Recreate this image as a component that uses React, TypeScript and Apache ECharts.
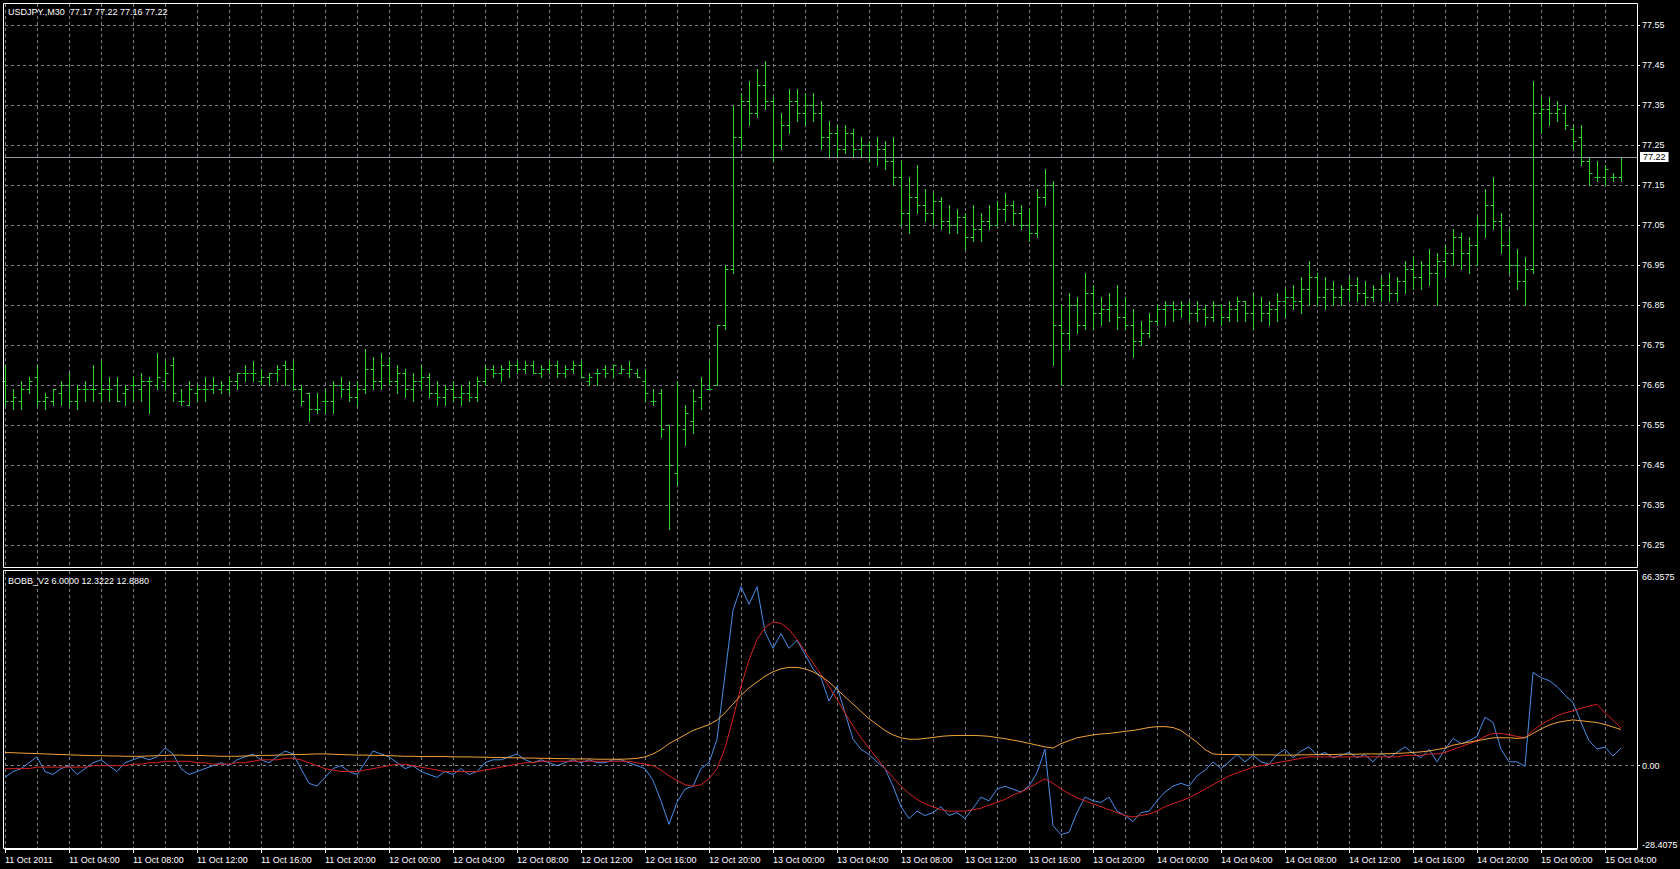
import React, { useEffect, useRef } from "react";
import * as echarts from "echarts";

const SYMBOL_LABEL = "USDJPY.,M30  77.17 77.22 77.16 77.22";
const INDICATOR_LABEL = "BOBB_V2 6.0000 12.3222 12.8880";

const TIME_LABELS = [
  "11 Oct 2011", "11 Oct 04:00", "11 Oct 08:00", "11 Oct 12:00", "11 Oct 16:00", "11 Oct 20:00",
  "12 Oct 00:00", "12 Oct 04:00", "12 Oct 08:00", "12 Oct 12:00", "12 Oct 16:00", "12 Oct 20:00",
  "13 Oct 00:00", "13 Oct 04:00", "13 Oct 08:00", "13 Oct 12:00", "13 Oct 16:00", "13 Oct 20:00",
  "14 Oct 00:00", "14 Oct 04:00", "14 Oct 08:00", "14 Oct 12:00", "14 Oct 16:00", "14 Oct 20:00",
  "15 Oct 00:00", "15 Oct 04:00",
];
const PRICE_TICKS = [76.25, 76.35, 76.45, 76.55, 76.65, 76.75, 76.85, 76.95, 77.05, 77.15, 77.25, 77.35, 77.45, 77.55];
const PRICE_MIN = 76.1925;
const PRICE_MAX = 77.6025;
const LAST_PRICE = 77.22;
const IND_MIN = -28.4075;
const IND_MAX = 66.3575;
const IND_LABELS = [-28.4075, 0, 66.3575];
const IND_ZERO = [0];
const SLOT_COUNT = 205; // bar slots on the time axis (2 empty on the right)

const OPEN = [
  76.66, 76.61, 76.61, 76.64, 76.67, 76.61, 76.61, 76.63, 76.65, 76.61,
  76.64, 76.64, 76.63, 76.64, 76.65, 76.63, 76.65, 76.64, 76.66, 76.65,
  76.66, 76.70, 76.61, 76.60, 76.63, 76.64, 76.64, 76.64, 76.64, 76.66,
  76.68, 76.68, 76.66, 76.67, 76.68, 76.70, 76.69, 76.64, 76.63, 76.59,
  76.61, 76.61, 76.65, 76.64, 76.62, 76.64, 76.69, 76.66, 76.70, 76.66,
  76.68, 76.64, 76.66, 76.67, 76.63, 76.62, 76.64, 76.62, 76.63, 76.62,
  76.66, 76.69, 76.68, 76.69, 76.70, 76.69, 76.70, 76.68, 76.69, 76.70,
  76.68, 76.69, 76.70, 76.66, 76.68, 76.69, 76.69, 76.68, 76.68, 76.68,
  76.66, 76.61, 76.63, 76.55, 76.43, 76.54, 76.56, 76.62, 76.64, 76.65,
  76.80, 76.94, 77.27, 77.36, 77.33, 77.40, 77.36, 77.25, 77.30, 77.36,
  77.33, 77.35, 77.33, 77.27, 77.28, 77.24, 77.28, 77.24, 77.25, 77.22,
  77.24, 77.21, 77.17, 77.08, 77.12, 77.10, 77.08, 77.11, 77.06, 77.05,
  77.07, 77.02, 77.04, 77.06, 77.05, 77.09, 77.10, 77.08, 77.05, 77.03,
  77.12, 77.15, 76.80, 76.78, 76.85, 76.80, 76.88, 76.83, 76.84, 76.85,
  76.82, 76.80, 76.76, 76.78, 76.81, 76.84, 76.85, 76.84, 76.85, 76.83,
  76.84, 76.82, 76.85, 76.82, 76.84, 76.86, 76.83, 76.85, 76.83, 76.84,
  76.86, 76.87, 76.86, 76.89, 76.92, 76.87, 76.89, 76.87, 76.89, 76.90,
  76.88, 76.87, 76.89, 76.90, 76.88, 76.91, 76.94, 76.92, 76.95, 76.93,
  76.96, 76.98, 77.02, 76.98, 77.00, 77.05, 77.10, 77.06, 77.00, 76.95,
  76.91, 76.94, 77.33, 77.34, 77.33, 77.33, 77.29, 77.27, 77.21, 77.17,
  77.17, 77.17, 77.17,
];
const HIGH = [
  76.70, 76.64, 76.66, 76.67, 76.70, 76.63, 76.64, 76.66, 76.68, 76.65,
  76.66, 76.70, 76.71, 76.67, 76.67, 76.65, 76.67, 76.68, 76.67, 76.73,
  76.71, 76.72, 76.64, 76.66, 76.65, 76.67, 76.67, 76.66, 76.67, 76.68,
  76.70, 76.71, 76.69, 76.68, 76.70, 76.71, 76.71, 76.65, 76.63, 76.63,
  76.64, 76.66, 76.67, 76.66, 76.66, 76.74, 76.72, 76.73, 76.72, 76.70,
  76.69, 76.68, 76.70, 76.68, 76.66, 76.65, 76.66, 76.65, 76.66, 76.67,
  76.70, 76.70, 76.70, 76.71, 76.71, 76.71, 76.71, 76.70, 76.71, 76.71,
  76.70, 76.71, 76.71, 76.68, 76.69, 76.70, 76.70, 76.70, 76.71, 76.69,
  76.69, 76.64, 76.64, 76.55, 76.66, 76.60, 76.64, 76.67, 76.71, 76.80,
  76.95, 77.35, 77.38, 77.41, 77.44, 77.46, 77.37, 77.33, 77.39, 77.39,
  77.38, 77.38, 77.36, 77.31, 77.30, 77.30, 77.29, 77.27, 77.26, 77.27,
  77.26, 77.27, 77.21, 77.17, 77.20, 77.14, 77.13, 77.12, 77.10, 77.09,
  77.08, 77.10, 77.08, 77.10, 77.11, 77.13, 77.11, 77.10, 77.09, 77.14,
  77.19, 77.16, 76.85, 76.88, 76.87, 76.93, 76.90, 76.87, 76.88, 76.90,
  76.87, 76.84, 76.81, 76.83, 76.85, 76.86, 76.86, 76.86, 76.86, 76.86,
  76.85, 76.86, 76.85, 76.86, 76.87, 76.86, 76.88, 76.87, 76.86, 76.88,
  76.89, 76.90, 76.92, 76.96, 76.93, 76.92, 76.91, 76.90, 76.92, 76.92,
  76.91, 76.90, 76.92, 76.93, 76.92, 76.96, 76.97, 76.96, 76.99, 76.98,
  77.00, 77.04, 77.03, 77.02, 77.07, 77.14, 77.17, 77.08, 77.04, 76.99,
  76.97, 77.41, 77.37, 77.37, 77.36, 77.35, 77.30, 77.30, 77.22, 77.21,
  77.20, 77.18, 77.22,
];
const LOW = [
  76.60, 76.59, 76.59, 76.63, 76.60, 76.59, 76.60, 76.60, 76.60, 76.59,
  76.61, 76.61, 76.61, 76.61, 76.61, 76.60, 76.61, 76.61, 76.58, 76.64,
  76.64, 76.61, 76.60, 76.60, 76.61, 76.61, 76.63, 76.63, 76.63, 76.64,
  76.66, 76.66, 76.65, 76.65, 76.66, 76.65, 76.64, 76.60, 76.56, 76.58,
  76.58, 76.58, 76.62, 76.61, 76.60, 76.63, 76.64, 76.64, 76.65, 76.63,
  76.62, 76.61, 76.64, 76.62, 76.60, 76.60, 76.61, 76.60, 76.61, 76.61,
  76.65, 76.67, 76.66, 76.67, 76.68, 76.68, 76.68, 76.67, 76.68, 76.67,
  76.67, 76.68, 76.67, 76.65, 76.65, 76.67, 76.67, 76.68, 76.67, 76.67,
  76.61, 76.60, 76.52, 76.29, 76.40, 76.50, 76.53, 76.59, 76.64, 76.65,
  76.79, 76.93, 77.24, 77.30, 77.32, 77.34, 77.21, 77.24, 77.28, 77.31,
  77.30, 77.31, 77.24, 77.22, 77.22, 77.23, 77.22, 77.22, 77.21, 77.20,
  77.19, 77.15, 77.05, 77.03, 77.08, 77.06, 77.05, 77.04, 77.03, 77.03,
  76.99, 77.01, 77.01, 77.04, 77.05, 77.06, 77.05, 77.04, 77.01, 77.02,
  77.10, 76.70, 76.65, 76.74, 76.78, 76.79, 76.79, 76.80, 76.81, 76.79,
  76.79, 76.72, 76.75, 76.77, 76.80, 76.80, 76.81, 76.82, 76.81, 76.81,
  76.80, 76.81, 76.80, 76.81, 76.81, 76.81, 76.79, 76.81, 76.80, 76.81,
  76.82, 76.84, 76.83, 76.85, 76.85, 76.84, 76.85, 76.85, 76.86, 76.86,
  76.85, 76.86, 76.86, 76.86, 76.86, 76.88, 76.89, 76.89, 76.90, 76.85,
  76.92, 76.95, 76.94, 76.93, 76.95, 77.02, 77.04, 76.98, 76.93, 76.89,
  76.85, 76.93, 77.28, 77.30, 77.31, 77.29, 77.24, 77.20, 77.15, 77.16,
  77.15, 77.16, 77.16,
];
const CLOSE = [
  76.61, 76.62, 76.64, 76.66, 76.61, 76.62, 76.64, 76.65, 76.61, 76.64,
  76.64, 76.64, 76.64, 76.64, 76.61, 76.64, 76.65, 76.66, 76.66, 76.67,
  76.68, 76.63, 76.61, 76.64, 76.64, 76.64, 76.65, 76.65, 76.66, 76.68,
  76.68, 76.68, 76.67, 76.68, 76.69, 76.69, 76.64, 76.61, 76.59, 76.59,
  76.61, 76.65, 76.64, 76.62, 76.64, 76.69, 76.66, 76.70, 76.66, 76.68,
  76.64, 76.66, 76.67, 76.63, 76.62, 76.64, 76.62, 76.63, 76.62, 76.66,
  76.69, 76.68, 76.69, 76.70, 76.69, 76.70, 76.68, 76.69, 76.70, 76.68,
  76.69, 76.70, 76.67, 76.67, 76.68, 76.68, 76.70, 76.69, 76.69, 76.67,
  76.63, 76.61, 76.54, 76.45, 76.55, 76.58, 76.61, 76.65, 76.64, 76.80,
  76.94, 77.27, 77.36, 77.33, 77.40, 77.36, 77.25, 77.30, 77.36, 77.33,
  77.35, 77.33, 77.27, 77.28, 77.24, 77.28, 77.24, 77.25, 77.22, 77.24,
  77.21, 77.17, 77.08, 77.12, 77.10, 77.08, 77.11, 77.06, 77.05, 77.07,
  77.02, 77.04, 77.06, 77.05, 77.09, 77.10, 77.08, 77.05, 77.03, 77.12,
  77.15, 76.80, 76.78, 76.85, 76.80, 76.88, 76.83, 76.84, 76.85, 76.82,
  76.80, 76.76, 76.78, 76.81, 76.84, 76.85, 76.84, 76.85, 76.83, 76.84,
  76.82, 76.85, 76.82, 76.84, 76.86, 76.83, 76.85, 76.83, 76.84, 76.86,
  76.87, 76.86, 76.89, 76.92, 76.87, 76.89, 76.87, 76.89, 76.90, 76.88,
  76.87, 76.89, 76.90, 76.88, 76.91, 76.94, 76.92, 76.95, 76.93, 76.96,
  76.98, 77.02, 76.98, 77.00, 77.05, 77.10, 77.06, 77.00, 76.95, 76.91,
  76.94, 77.33, 77.34, 77.33, 77.34, 77.30, 77.26, 77.21, 77.18, 77.17,
  77.19, 77.17, 77.22,
];

const BLUE = [
  -4, -2, -1, 1, 3, -2, -3, -1, 0, -3,
  -1, 1, 2, 0, -2, 1, 2, 3, 2, 3,
  6, 4, -1, -3, -2, -1, 0, 1, 0, 2,
  3, 4, 2, 1, 3, 5, 4, -1, -6, -7,
  -4, -1, 0, -2, -3, 1, 5, 4, 3, 1,
  -1, 0, -2, -3, -4, -2, -3, -1, -3, -2,
  1, 2, 2, 3, 4, 2, 1, 2, 1, 0,
  1, 2, 1, 2, 1, 1, 2, 2, 1, 0,
  -1, -5, -12, -20, -12.5, -8, -7, -1, 1, 9,
  31, 53, 61, 55, 61, 45.6, 40, 45, 40, 42.7,
  38, 33, 30, 22, 27, 18, 9, 5.6, 3.8, 1.3,
  -1, -7, -14, -18, -15.5, -17, -16, -14, -17, -16,
  -18, -14.5, -10.7, -12, -8, -7, -8, -9, -7, -2.4,
  5.6, -20.5, -23.5, -22.7, -16, -10.7, -12, -12.5, -10.7, -15.5,
  -17, -19, -16, -15.5, -12, -9, -7, -6, -7, -3.5,
  -1.6, 1.3, -1, 1.3, 3.8, 1.3, 3.5, 1.3, 0.5, 3.8,
  5.6, 2.7, 5, 6.4, 3.5, 4.5, 2.7, 3.5, 4.5, 2.7,
  3.8, 1.3, 4.2, 2.7, 4.5, 6.4, 4.2, 2.7, 5.6, 1.3,
  5.6, 9.3, 7.5, 8.5, 10, 16.5, 14.7, 5.6, 1.3, 1.3,
  -0.2, 31.8, 30, 29, 27, 24, 21.5, 14.8, 8.5, 5.7,
  6.3, 3.3, 6.0,
];
const RED = [
  -1, -1, -1, -1, -0.5, -0.5, -0.5, -0.5, -0.5, -0.5,
  -0.5, 0, 0, 0, 0, 0, 0.5, 0.5, 1, 1,
  1.5, 1.5, 1.5, 1.5, 1, 1, 0.5, 0.5, 0.5, 1,
  1, 1.5, 2, 2, 2, 2.5, 2.5, 2, 1, 0,
  -1, -1.5, -2, -2, -2, -1.5, -1, -0.5, 0, 0.5,
  0.5, 0, -0.5, -1, -1.5, -2, -2, -2, -2, -2,
  -1.5, -1, -0.5, 0, 0.5, 1, 1, 1.5, 1.5, 1.5,
  1.5, 1.5, 1.5, 1.5, 1.5, 1.5, 1.5, 1.5, 1.5, 1,
  0.5, 0, -1.5, -3.5, -5, -6.5, -7, -6.5, -4.5, -1,
  6, 16, 27, 36, 43, 47, 49, 48.5, 46.5, 43,
  39, 35, 31, 27, 22.5, 18, 13.5, 9.5, 6, 2.5,
  -1, -4, -7, -9.5, -11.5, -13, -14, -15, -15.5, -15.5,
  -15.5, -15, -14.5, -13.5, -12.5, -11.5, -10, -9, -7.5, -6,
  -4.5, -6, -8, -9.5, -11, -12, -13, -14, -15, -16,
  -17, -17.5, -17, -16.5, -15.5, -14, -13, -12, -11, -9.5,
  -8, -6.5, -5, -3.5, -2.5, -1.5, -0.5, 0, 0.5, 1,
  1.5, 2, 2.5, 3, 3, 3, 3, 3, 3, 3,
  3, 3, 3, 3, 3, 3.5, 3.5, 3.5, 4, 4,
  4.5, 5.5, 6.5, 7.5, 8.5, 10, 11, 11, 10.5, 10,
  9.5, 12, 14, 15.5, 17, 18, 18.7, 19.5, 20.3, 20.9,
  18, 15.5, 12.888,
];
const ORANGE = [
  4.5, 4.4, 4.3, 4.2, 4.1, 4.0, 3.9, 3.8, 3.7, 3.6,
  3.5, 3.4, 3.4, 3.3, 3.3, 3.2, 3.2, 3.2, 3.3, 3.4,
  3.5, 3.6, 3.6, 3.5, 3.5, 3.4, 3.3, 3.2, 3.2, 3.2,
  3.3, 3.4, 3.5, 3.5, 3.6, 3.7, 3.8, 3.8, 3.9, 4.0,
  4.0, 3.9, 3.8, 3.7, 3.6, 3.6, 3.5, 3.5, 3.4, 3.3,
  3.2, 3.2, 3.1, 3.1, 3.1, 3.1, 3.0, 3.0, 3.0, 2.9,
  2.9, 2.8, 2.8, 2.7, 2.7, 2.6, 2.6, 2.5, 2.5, 2.4,
  2.4, 2.3, 2.3, 2.3, 2.2, 2.2, 2.2, 2.2, 2.3, 2.5,
  3, 4, 5.5, 7.5, 9, 10.5, 12, 13, 14, 15.5,
  18, 21, 24, 26.5, 28.5, 30.5, 32, 33, 33.5, 33.5,
  33, 32, 30.5, 28.5, 26, 23.5, 21, 18.5, 16, 14,
  12, 10.5, 9.5, 9, 9, 9.3, 9.6, 10, 10.2, 10.3,
  10.3, 10.3, 10.2, 10, 9.6, 9.2, 8.7, 8.2, 7.6, 7,
  6.4, 6, 7.5, 8.5, 9.5, 10, 10.5, 10.8, 11, 11.3,
  11.7, 12, 12.5, 13, 13.3, 13.3, 13, 12, 10, 8,
  5.5, 4, 3.8, 3.8, 3.8, 3.7, 3.7, 3.7, 3.7, 3.6,
  3.6, 3.6, 3.7, 3.7, 3.8, 3.8, 3.8, 3.9, 3.9, 3.9,
  4, 4, 4, 4.1, 4.2, 4.3, 4.5, 4.7, 5, 5.5,
  6, 7, 7.5, 8, 8.5, 9, 9.5, 9.5, 9.5, 9.3,
  9.5, 11, 12.5, 13.8, 14.7, 15.2, 15.6, 15.3, 15, 14.7,
  14, 13.2, 12.322,
];

const BAR_COLOR = "#2bd62b";
const GRID_COLOR = "#7c828a";
const BLUE_COLOR = "#4a8ee6";
const RED_COLOR = "#d42222";
const ORANGE_COLOR = "#f0a23a";
const FONT = "'Liberation Sans', Arial, sans-serif";

export default function App() {
  const ref = useRef<HTMLDivElement>(null);

  useEffect(() => {
    document.body.style.margin = "0";
    document.body.style.background = "#000";
    if (!ref.current) return;
    const chart = echarts.init(ref.current, undefined, { renderer: "svg" });

    const categories = Array.from({ length: SLOT_COUNT }, (_, i) => String(i));
    const bars = OPEN.map((o, i) => [i, o, HIGH[i], LOW[i], CLOSE[i]]);
    const dash = { color: GRID_COLOR, type: [3, 3] as number[], width: 1 };

    const option: any = {
      animation: false,
      backgroundColor: "#000",
      textStyle: { fontFamily: FONT },
      title: [
        {
          text: SYMBOL_LABEL, left: 8, top: 7, padding: 0,
          textStyle: { color: "#fff", fontSize: 9, fontWeight: "normal", fontFamily: FONT },
        },
        {
          text: INDICATOR_LABEL, left: 8, top: 576, padding: 0,
          textStyle: { color: "#fff", fontSize: 9, fontWeight: "normal", fontFamily: FONT },
        },
      ],
      grid: [
        { left: 5, top: 4, width: 1632, height: 564, outerBoundsMode: "none" },
        { left: 5, top: 571, width: 1632, height: 278, outerBoundsMode: "none" },
      ],
      xAxis: [
        {
          type: "category", gridIndex: 0, data: categories, boundaryGap: false,
          axisLine: { show: false, onZero: false }, axisTick: { show: false }, axisLabel: { show: false },
          splitLine: { show: true, interval: 3, lineStyle: dash },
        },
        {
          type: "category", gridIndex: 1, data: categories, boundaryGap: false, position: "bottom",
          axisLine: { show: true, onZero: false, lineStyle: { color: "#ffffff", width: 1 } },
          axisTick: { show: true, interval: 7, length: 4, lineStyle: { color: "#ffffff" } },
          axisLabel: {
            show: true, interval: 7, color: "#ffffff", fontSize: 9, fontFamily: FONT,
            align: "left", margin: 6,
            formatter: (_v: string, idx: number) => (idx % 8 === 0 && TIME_LABELS[idx / 8]) || "",
          },
          splitLine: { show: true, interval: 3, lineStyle: dash },
        },
      ],
      yAxis: [
        {
          type: "value", gridIndex: 0, position: "right", min: PRICE_MIN, max: PRICE_MAX,
          axisLine: { show: false },
          axisTick: { show: true, length: 3, customValues: PRICE_TICKS, lineStyle: { color: "#ffffff" } },
          axisLabel: {
            customValues: PRICE_TICKS, color: "#ffffff", fontSize: 9, fontFamily: FONT, margin: 5,
            formatter: (v: number) => v.toFixed(2),
          },
          splitLine: { show: true, lineStyle: dash },
        },
        {
          type: "value", gridIndex: 1, position: "right", min: IND_MIN, max: IND_MAX,
          axisLine: { show: false },
          axisTick: { show: true, length: 3, customValues: IND_ZERO, lineStyle: { color: "#ffffff" } },
          axisLabel: {
            customValues: IND_LABELS, color: "#ffffff", fontSize: 9, fontFamily: FONT, margin: 5,
            formatter: (v: number) => {
              if (v >= IND_MAX - 0.001) return "{t|" + IND_MAX.toFixed(4) + "}";
              if (v <= IND_MIN + 0.001) return "{b|" + IND_MIN.toFixed(4) + "}";
              return "{m|" + v.toFixed(2) + "}";
            },
            rich: {
              t: { color: "#fff", fontSize: 9, fontFamily: FONT, padding: [12, 0, 0, 0] },
              b: { color: "#fff", fontSize: 9, fontFamily: FONT, padding: [0, 0, 8, 0] },
              m: { color: "#fff", fontSize: 9, fontFamily: FONT },
            },
          },
          splitLine: { show: true, lineStyle: dash },
        },
      ],
      graphic: [
        {
          type: "rect", silent: true, z: 100,
          shape: { x: 3.5, y: 3.5, width: 1634, height: 564 },
          style: { fill: "none", stroke: "#ffffff", lineWidth: 1 },
        },
        {
          type: "rect", silent: true, z: 100,
          shape: { x: 3.5, y: 570.5, width: 1634, height: 278 },
          style: { fill: "none", stroke: "#ffffff", lineWidth: 1 },
        },
      ],
      series: [
        {
          type: "custom", name: "USDJPY", xAxisIndex: 0, yAxisIndex: 0, clip: false,
          data: bars,
          encode: { x: 0, y: [1, 2, 3, 4] },
          renderItem: (_params: any, api: any) => {
            const i = api.value(0);
            const po = api.coord([i, api.value(1)]);
            const ph = api.coord([i, api.value(2)]);
            const pl = api.coord([i, api.value(3)]);
            const pc = api.coord([i, api.value(4)]);
            const x = Math.round(po[0]) + 0.5;
            const r = (y: number) => Math.round(y) + 0.5;
            const style = { stroke: BAR_COLOR, lineWidth: 1, fill: null };
            return {
              type: "group",
              children: [
                { type: "line", shape: { x1: x, y1: Math.round(ph[1]), x2: x, y2: Math.round(pl[1]) + 1 }, style },
                { type: "line", shape: { x1: x - 3, y1: r(po[1]), x2: x, y2: r(po[1]) }, style },
                { type: "line", shape: { x1: x, y1: r(pc[1]), x2: x + 3, y2: r(pc[1]) }, style },
              ],
            };
          },
          markLine: {
            silent: true, animation: false, symbol: ["none", "none"],
            lineStyle: { color: "#8f98a2", type: "solid", width: 1 },
            label: {
              show: true, position: "end", distance: 3,
              formatter: LAST_PRICE.toFixed(2), color: "#000", backgroundColor: "#fff",
              padding: [1, 3, 0, 3], fontSize: 9, fontFamily: FONT,
            },
            data: [{ yAxis: LAST_PRICE }],
          },
        },
        {
          type: "line", name: "BOBB main", xAxisIndex: 1, yAxisIndex: 1, data: BLUE,
          showSymbol: false, symbol: "none", lineStyle: { color: BLUE_COLOR, width: 1 }, itemStyle: { color: BLUE_COLOR },
        },
        {
          type: "line", name: "BOBB signal", xAxisIndex: 1, yAxisIndex: 1, data: RED,
          showSymbol: false, symbol: "none", lineStyle: { color: RED_COLOR, width: 1 }, itemStyle: { color: RED_COLOR },
        },
        {
          type: "line", name: "BOBB band", xAxisIndex: 1, yAxisIndex: 1, data: ORANGE,
          showSymbol: false, symbol: "none", lineStyle: { color: ORANGE_COLOR, width: 1 }, itemStyle: { color: ORANGE_COLOR },
        },
      ],
    };

    chart.setOption(option);
    return () => chart.dispose();
  }, []);

  return <div ref={ref} style={{ width: 1680, height: 869, background: "#000" }} />;
}
